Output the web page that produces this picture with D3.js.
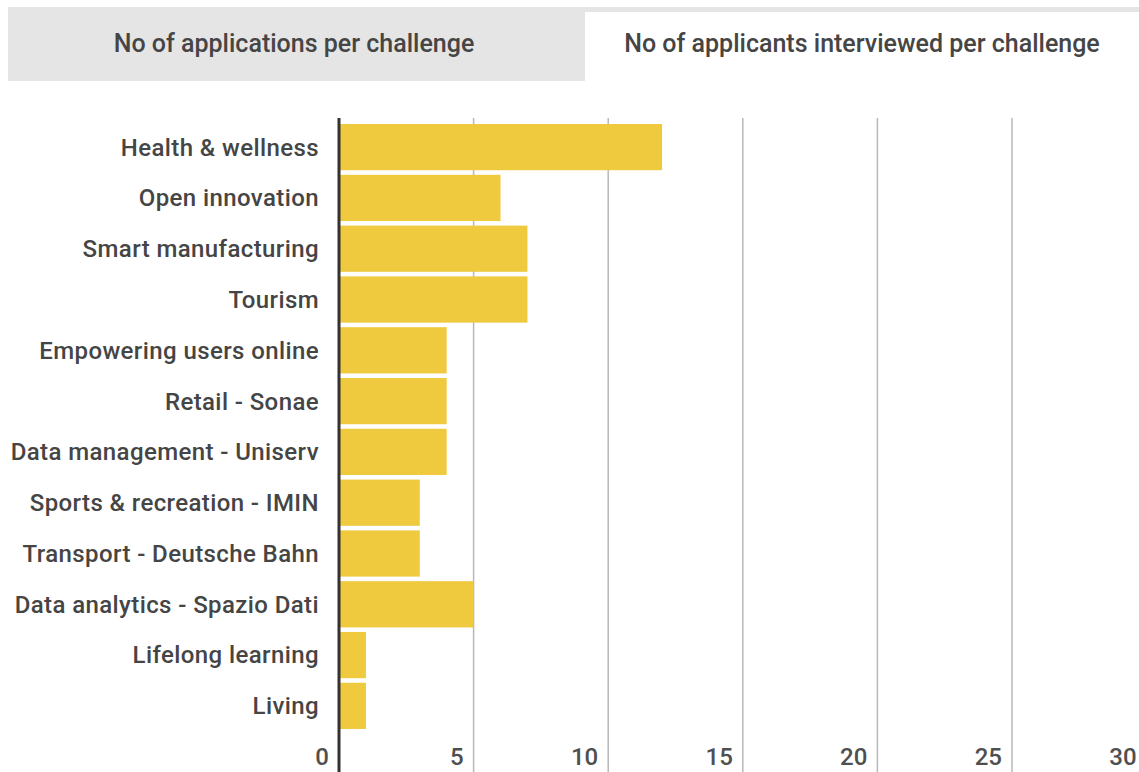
<!DOCTYPE html>
<html>
<head>
<meta charset="utf-8">
<script src="https://cdn.jsdelivr.net/npm/d3@7"></script>
<style>
  body { margin: 0; background: #fff; font-family: Roboto, sans-serif; }
</style>
</head>
<body>
<svg id="chart" width="1139" height="772"></svg>
<script>
const tabs = ["No of applications per challenge", "No of applicants interviewed per challenge"];
const categories = [
  "Health & wellness", "Open innovation", "Smart manufacturing", "Tourism",
  "Empowering users online", "Retail - Sonae", "Data management - Uniserv",
  "Sports & recreation - IMIN", "Transport - Deutsche Bahn",
  "Data analytics - Spazio Dati", "Lifelong learning", "Living"
];
const values = [12, 6, 7, 7, 4, 4, 4, 3, 3, 5, 1, 1];
const xTicks = [0, 5, 10, 15, 20, 25, 30];

const svg = d3.select('#chart');

// tab bar
svg.append('rect').attr('x', 8).attr('y', 7).attr('width', 1131).attr('height', 74).attr('fill', '#e5e5e5');
svg.append('rect').attr('x', 585).attr('y', 12).attr('width', 554).attr('height', 69).attr('fill', '#fff');
svg.append('text').attr('x', 294).attr('y', 52).attr('text-anchor', 'middle')
  .style('font-size', '25px').style('font-weight', 500).style('fill', '#454545').text(tabs[0]);
svg.append('text').attr('x', 862).attr('y', 52).attr('text-anchor', 'middle')
  .style('font-size', '25px').style('font-weight', 500).style('fill', '#454545').text(tabs[1]);

const margin = { top: 124, left: 339, bottom: 43 };
const x = d3.scaleLinear().domain([0, 30]).range([margin.left, margin.left + 134.6 * 6]);
const y = d3.scaleBand().domain(categories).range([margin.top, 729]).paddingInner(0.09).paddingOuter(0);

// grid
svg.selectAll('.grid')
  .data(xTicks.slice(1))
  .join('line')
  .attr('x1', d => x(d)).attr('x2', d => x(d))
  .attr('y1', 118).attr('y2', 772)
  .attr('stroke', '#b8b8b8').attr('stroke-width', 1.5);

// bars
svg.selectAll('.bar')
  .data(values)
  .join('rect')
  .attr('x', x(0) + 1)
  .attr('y', (d, i) => y(categories[i]))
  .attr('width', d => x(d) - x(0) - 1)
  .attr('height', y.bandwidth())
  .attr('fill', '#efc93e');

// zero axis
svg.append('line')
  .attr('x1', x(0)).attr('x2', x(0))
  .attr('y1', 118).attr('y2', 772)
  .attr('stroke', '#333').attr('stroke-width', 3);

// category labels
svg.selectAll('.cat')
  .data(categories)
  .join('text')
  .attr('x', 319)
  .attr('y', d => y(d) + y.bandwidth() / 2)
  .attr('dy', '0.35em')
  .attr('text-anchor', 'end')
  .style('font-size', '24px')
  .style('font-weight', 500)
  .style('letter-spacing', '0.4px')
  .style('fill', '#454545')
  .text(d => d);

// x tick labels
svg.selectAll('.tick')
  .data(xTicks)
  .join('text')
  .attr('x', d => x(d) - 10)
  .attr('y', 757)
  .attr('dy', '0.35em')
  .attr('text-anchor', 'end')
  .style('font-size', '24px')
  .style('font-weight', 500)
  .style('fill', '#4f4f4f')
  .text(d => d);
</script>
</body>
</html>
